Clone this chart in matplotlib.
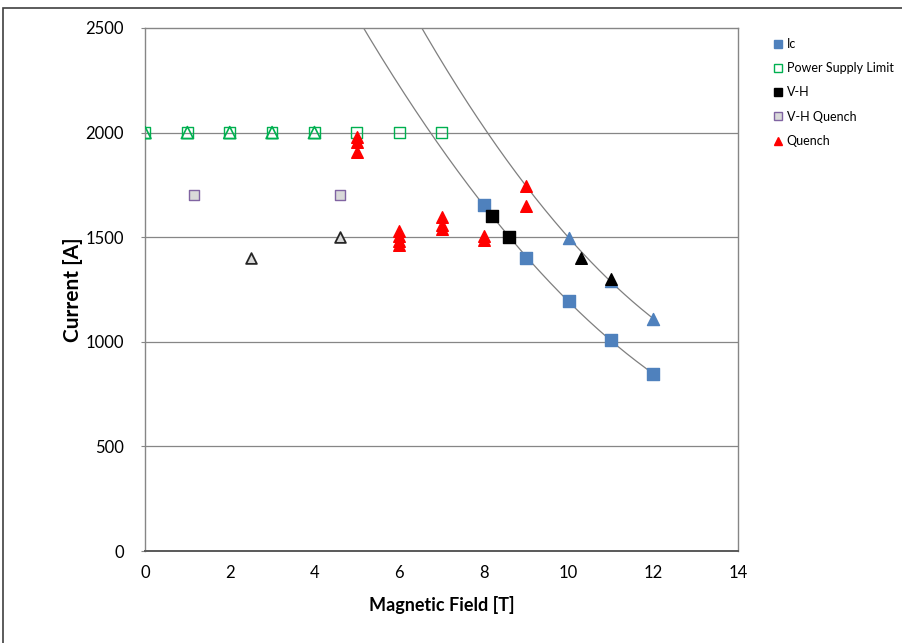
import numpy as np
import matplotlib
matplotlib.use("Agg")
import matplotlib.pyplot as plt
from matplotlib.lines import Line2D

plt.rcParams['font.family'] = ['Lato', 'DejaVu Sans']

# --- data ---
ic_b = [8, 9, 10, 11, 12]
ic_i = [1655, 1400, 1195, 1010, 845]

ic_tri_b = [10, 11, 12]
ic_tri_i = [1495, 1290, 1110]

psl_b = [0, 1, 2, 3, 4, 5, 6, 7]
psl_i = [2000, 2000, 2000, 2000, 2000, 2000, 2000, 2000]
psl_tri_b = [0, 1, 2, 3, 4]
psl_tri_i = [2000, 2000, 2000, 2000, 2000]

vh_b = [8.2, 8.6]
vh_i = [1600, 1500]
vh_tri_b = [10.3, 11]
vh_tri_i = [1400, 1300]

vhq_b = [1.15, 4.6]
vhq_i = [1700, 1700]
vhq_tri_b = [2.5, 4.6]
vhq_tri_i = [1400, 1500]

quench_b = [5, 5, 5, 6, 6, 6, 6, 7, 7, 7, 8, 8, 9, 9]
quench_i = [1980, 1955, 1905, 1530, 1505, 1480, 1465, 1595, 1560, 1540, 1505, 1485, 1745, 1650]

# trendline fits (2nd order, like the spreadsheet trendlines)
low_fit = np.polyfit(ic_b, ic_i, 2)
up_b = [9] + ic_tri_b
up_i = [1745] + ic_tri_i
up_fit = np.polyfit(up_b, up_i, 2)

fig = plt.figure(figsize=(9.02, 6.43), dpi=100)
ax = fig.add_axes([145 / 902, 1 - 551 / 643, (738 - 145) / 902, (551 - 28) / 643])

xs = np.linspace(4.5, 12, 300)
ax.plot(xs, np.polyval(low_fit, xs), color='#7f7f7f', lw=0.9, zorder=2)
ax.plot(xs, np.polyval(up_fit, xs), color='#7f7f7f', lw=0.9, zorder=2)

blue = '#4f81bd'
green = '#00b050'

ax.scatter(psl_tri_b, psl_tri_i, marker='^', s=75, facecolors='none', edgecolors=green, linewidths=1.2, zorder=3)
ax.scatter(psl_b, psl_i, marker='s', s=60, facecolors='none', edgecolors=green, linewidths=1.0, zorder=3)
ax.scatter(vhq_b, vhq_i, marker='s', s=60, facecolors='#d9d9d9', edgecolors='#8064a2', linewidths=1.0, zorder=3)
ax.scatter(vhq_tri_b, vhq_tri_i, marker='^', s=60, facecolors='#d9d9d9', edgecolors='#262626', linewidths=1.3, zorder=3)
ax.scatter(ic_b, ic_i, marker='s', s=75, color=blue, zorder=3)
ax.scatter(ic_tri_b, ic_tri_i, marker='^', s=75, color=blue, zorder=3)
ax.scatter(vh_b, vh_i, marker='s', s=75, color='black', zorder=4)
ax.scatter(vh_tri_b, vh_tri_i, marker='^', s=70, color='black', zorder=4)
ax.scatter(quench_b, quench_i, marker='^', s=70, color='#ff0000', zorder=4)

ax.set_xlim(0, 14)
ax.set_ylim(0, 2500)
ax.set_xticks(range(0, 15, 2))
ax.set_yticks(range(0, 2501, 500))
ax.tick_params(axis='both', labelsize=12, length=3, color='#868686', direction='out')
ax.tick_params(axis='x', length=0, pad=10)
ax.tick_params(axis='y', pad=12)
for y in [500, 1000, 1500, 2000]:
    ax.axhline(y, color='#868686', lw=0.9, zorder=1)
for side in ['left', 'right', 'top', 'bottom']:
    ax.spines[side].set_color('#868686')
    ax.spines[side].set_linewidth(1.0)
ax.spines['bottom'].set_color('#595959')
ax.spines['bottom'].set_linewidth(1.4)

ax.set_xlabel('Magnetic Field [T]', fontsize=13, fontweight='bold', labelpad=11)
ax.set_ylabel('Current [A]', fontsize=15, fontweight='bold', labelpad=2)

handles = [
    Line2D([], [], marker='s', ls='none', color=blue, markersize=6),
    Line2D([], [], marker='s', ls='none', markerfacecolor='none', markeredgecolor=green, markersize=6),
    Line2D([], [], marker='s', ls='none', color='black', markersize=6),
    Line2D([], [], marker='s', ls='none', markerfacecolor='#d9d9d9', markeredgecolor='#8064a2', markersize=6),
    Line2D([], [], marker='^', ls='none', color='#ff0000', markersize=6),
]
labels = ['Ic', 'Power Supply Limit', 'V-H', 'V-H Quench', 'Quench']
fig.legend(handles, labels, loc='upper left', bbox_to_anchor=(768 / 902, 1 - 33 / 643),
           frameon=False, fontsize=9, handlelength=0.8, handletextpad=0.3, labelspacing=0.98,
           borderaxespad=0)

# outer chart border
fig.add_artist(plt.Rectangle((3 / 902, -0.05), 1.0, 1.05 - 8 / 643, transform=fig.transFigure,
                             fill=False, edgecolor='#404040', lw=1.2))

fig.savefig('out.png', dpi=100)
